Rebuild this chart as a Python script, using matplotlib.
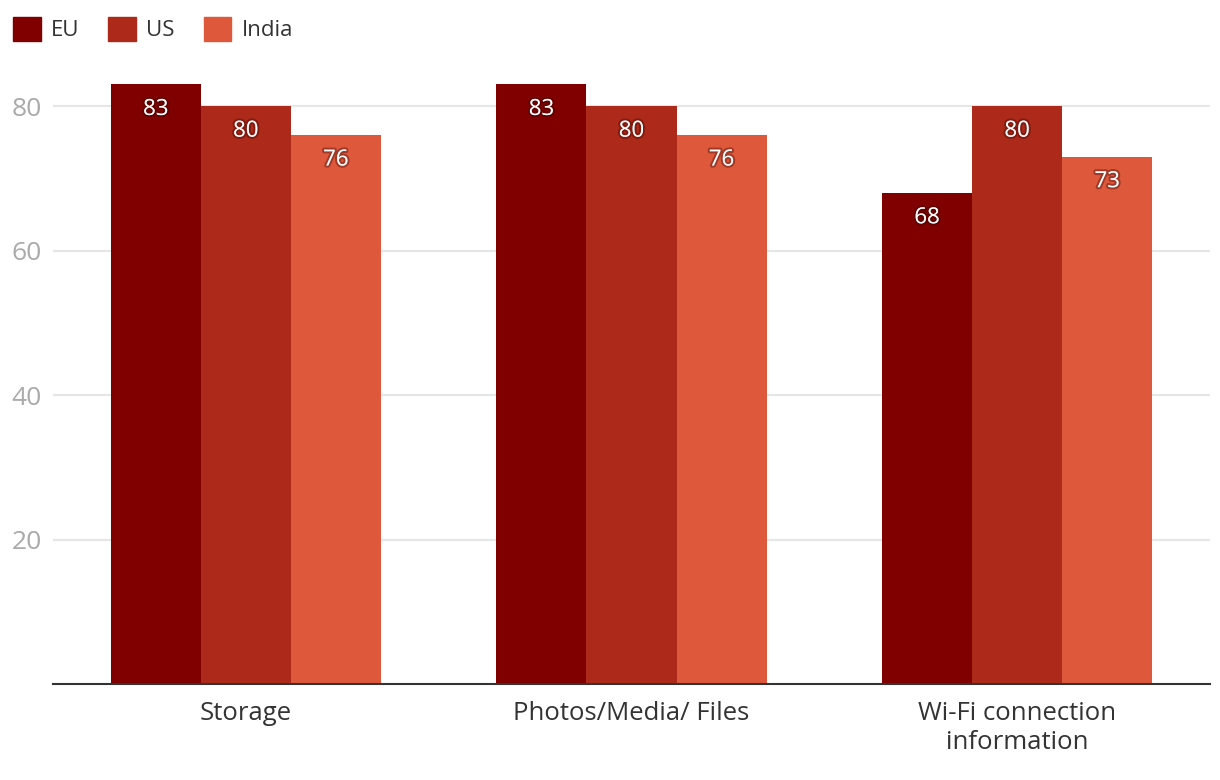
import matplotlib.pyplot as plt
import matplotlib.patheffects as pe
from matplotlib.patches import Patch
import numpy as np

plt.rcParams['font.family'] = ['Open Sans', 'DejaVu Sans']

categories = ['Storage', 'Photos/Media/ Files', 'Wi-Fi connection\ninformation']
series = ['EU', 'US', 'India']
eu = [83, 83, 68]
us = [80, 80, 80]
india = [76, 76, 73]
colors = ['#800000', '#AD2A1A', '#DE583C']
yticks = [20, 40, 60, 80]

fig = plt.figure(figsize=(12.2, 7.8), dpi=100)
ax = fig.add_axes([53 / 1220, 96 / 780, 1157 / 1220, 614 / 780])

x = np.arange(len(categories))
w = 0.2335
shadow = [pe.withStroke(linewidth=3, foreground=(0.2, 0, 0, 0.35))]
for i, (vals, col) in enumerate(zip([eu, us, india], colors)):
    bars = ax.bar(x + (i - 1) * w, vals, w, color=col, zorder=2)
    for b, v in zip(bars, vals):
        ax.annotate(str(v), (b.get_x() + b.get_width() / 2, v),
                    xytext=(0, -18), textcoords='offset points',
                    ha='center', va='center', color='white', fontsize=16,
                    path_effects=shadow, zorder=3)

ax.set_xlim(-0.5, 2.5)
ax.set_ylim(0, 85)
ax.set_yticks(yticks)
ax.set_xticks(x)
ax.set_xticklabels(categories, fontsize=18.5, color='#333333', linespacing=1.25)
ax.tick_params(axis='x', length=0, pad=12)
ax.tick_params(axis='y', length=0, pad=8, labelsize=19, labelcolor='#aaaaaa')
ax.grid(axis='y', color='#e6e6e6', linewidth=1.5, zorder=0)
for s in ['top', 'right', 'left']:
    ax.spines[s].set_visible(False)
ax.spines['bottom'].set_color('#333333')
ax.spines['bottom'].set_linewidth(1.5)

handles = [Patch(color=c, label=s) for c, s in zip(colors, series)]
fig.legend(handles=handles, loc='upper left', bbox_to_anchor=(0.0, 0.995),
           ncol=3, frameon=False, fontsize=16, handlelength=1.25,
           handleheight=1.25, handletextpad=0.45, columnspacing=1.3,
           borderaxespad=0.2, labelcolor='#333333')

fig.savefig('out.png', dpi=100)
